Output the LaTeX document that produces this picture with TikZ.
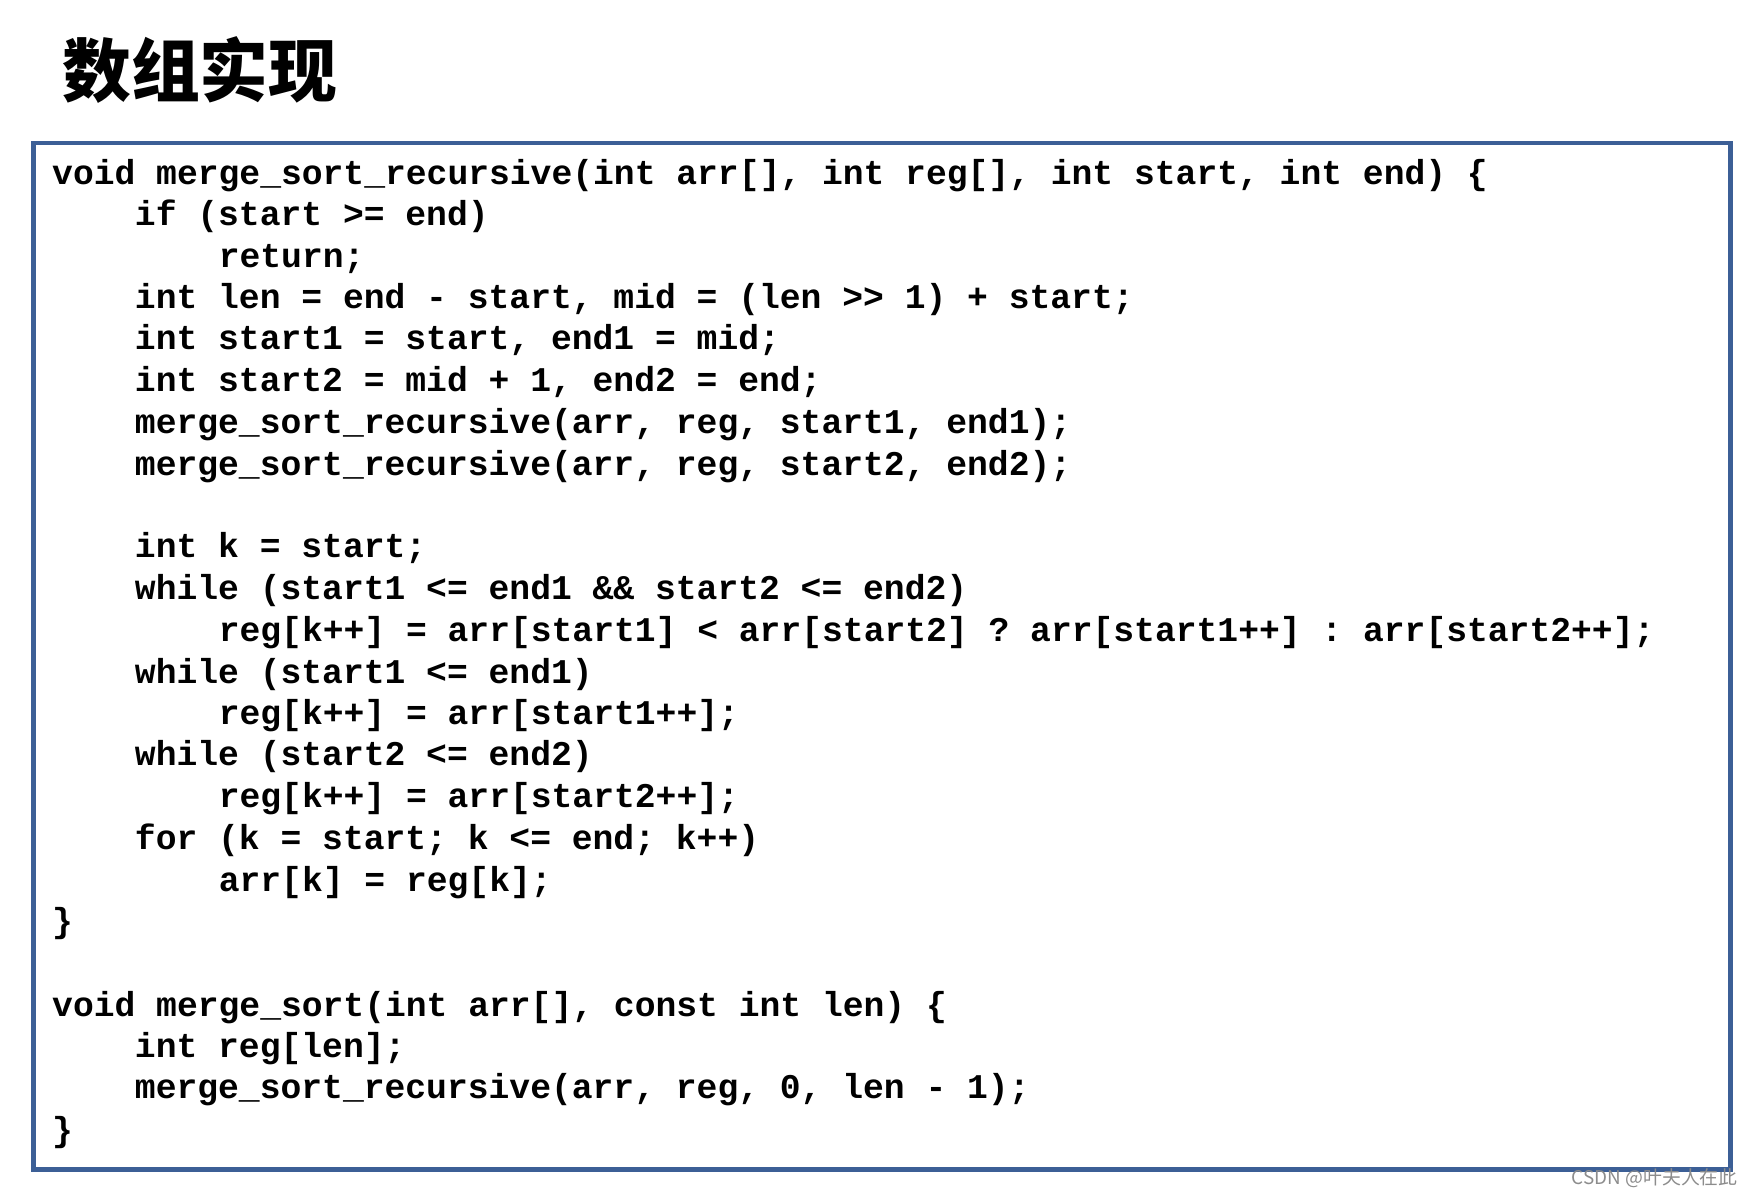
\documentclass[tikz,border=0pt]{standalone}
\usepackage{fontspec}
\setmonofont{Liberation Mono}
\newfontfamily\cjk{Noto Sans CJK SC}
\usetikzlibrary{positioning}
\definecolor{framecol}{RGB}{60,95,150}

\begin{document}
\begin{tikzpicture}[
    x=0.01cm, y=-0.01cm,
    code/.style={anchor=base west, inner sep=0pt, font=\ttfamily\bfseries\fontsize{8.82}{10}\selectfont},
    frame/.style={draw=framecol, line width=1.1pt},
]
    \useasboundingbox (0,0) rectangle (1568,1072);
    \node[anchor=west, inner sep=0pt, font=\cjk\bfseries\fontsize{17.5}{20}\selectfont] (title) at (55,63) {数组实现};
    \draw[frame] (30,128) rectangle (1548,1046);

    % recursive part
    \node[code] (l1) at (46,165) {void merge\_sort\_recursive(int arr[], int reg[], int start, int end) \{};
    \node[code] (l2) at (120,202) {if (start >= end)};
    \node[code] (l3) at (195,239) {return;};
    \node[code] (l4) at (120,276) {int len = end - start, mid = (len >> 1) + start;};
    \node[code] (l5) at (120,313) {int start1 = start, end1 = mid;};
    \node[code] (l6) at (120,350) {int start2 = mid + 1, end2 = end;};
    \node[code] (l7) at (120,388) {merge\_sort\_recursive(arr, reg, start1, end1);};
    \node[code] (l8) at (120,425) {merge\_sort\_recursive(arr, reg, start2, end2);};
    \node[code] (l9) at (120,499) {int k = start;};
    \node[code] (l10) at (120,536) {while (start1 <= end1 \&\& start2 <= end2)};
    \node[code] (l11) at (195,574) {reg[k++] = arr[start1] < arr[start2] ? arr[start1++] : arr[start2++];};
    \node[code] (l12) at (120,611) {while (start1 <= end1)};
    \node[code] (l13) at (195,648) {reg[k++] = arr[start1++];};
    \node[code] (l14) at (120,685) {while (start2 <= end2)};
    \node[code] (l15) at (195,722) {reg[k++] = arr[start2++];};
    \node[code] (l16) at (120,760) {for (k = start; k <= end; k++)};
    \node[code] (l17) at (195,797) {arr[k] = reg[k];};
    \node[code] (l18) at (46,834) {\}};

    % wrapper
    \node[code] (l19) at (46,909) {void merge\_sort(int arr[], const int len) \{};
    \node[code] (l20) at (120,946) {int reg[len];};
    \node[code] (l21) at (120,983) {merge\_sort\_recursive(arr, reg, 0, len - 1);};
    \node[code] (l22) at (46,1021) {\}};

    \node[anchor=east, inner sep=0pt, text=black!45, font=\cjk\fontsize{4.8}{6}\selectfont] (mark) at (1555,1054) {CSDN @叶夫人在此};
\end{tikzpicture}
\end{document}
